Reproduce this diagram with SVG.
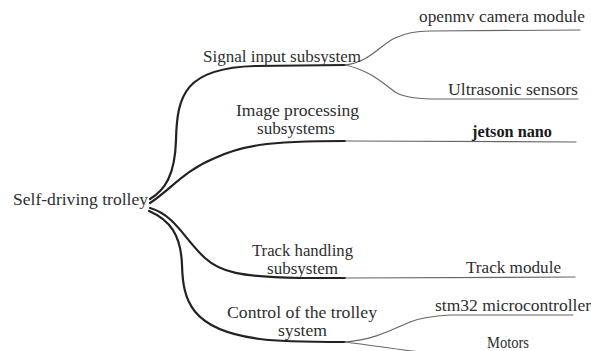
<svg xmlns="http://www.w3.org/2000/svg" width="591" height="351" viewBox="0 0 591 351">
  <style>
    .lbl { font-family: "Liberation Serif", "DejaVu Serif", "Times New Roman", serif; font-size: 16px; fill: #2e2e2e; }
    .bold { font-weight: bold; fill: #1a1a1a; }
    .main { fill: none; stroke: #222; stroke-width: 2.2; stroke-linecap: round; }
    .leaf { fill: none; stroke: #666; stroke-width: 1.2; stroke-linecap: round; }
  </style>
  <rect width="591" height="351" fill="#fff"/>

  <g id="connectors">
    <!-- root to subsystems -->
    <path class="main" d="M150,199 C165,190 175,175 176,140 C177,95 185,68 255,66 L345,65"/>
    <path class="main" d="M150,203 C170,190 185,170 215,158 C240,146 265,141 345,141"/>
    <path class="main" d="M150,208 C175,215 185,240 205,258 C220,272 240,277 300,278 L345,278"/>
    <path class="main" d="M149,211 C170,220 181,235 182,265 C183,300 190,330 260,339 C280,342 320,342 345,342"/>
    <!-- subsystems to components -->
    <path class="leaf" d="M345,65 C370,62 380,45 395,38 C405,33 415,31 430,31 L580,30"/>
    <path class="leaf" d="M345,65 C370,70 385,85 395,92 C405,98 420,99 440,99 L578,99"/>
    <path class="leaf" d="M345,141 L576,142"/>
    <path class="leaf" d="M345,278 L575,277"/>
    <path class="leaf" d="M345,342 C375,340 395,328 410,322 C420,318 430,316 450,315 L573,315"/>
    <path class="leaf" d="M345,342 C370,345 395,349 420,352"/>
  </g>

  <g id="root">
    <text class="lbl" x="13" y="205" textLength="135" lengthAdjust="spacingAndGlyphs">Self-driving trolley</text>
  </g>

  <g id="signal-input">
    <text class="lbl" x="203" y="62" textLength="158" lengthAdjust="spacingAndGlyphs">Signal input subsystem</text>
  </g>
  <g id="openmv">
    <text class="lbl" x="419" y="22" textLength="166" lengthAdjust="spacingAndGlyphs">openmv camera module</text>
  </g>
  <g id="ultrasonic">
    <text class="lbl" x="448" y="95" textLength="130" lengthAdjust="spacingAndGlyphs">Ultrasonic sensors</text>
  </g>

  <g id="image-processing">
    <text class="lbl" x="236" y="116" textLength="123" lengthAdjust="spacingAndGlyphs">Image processing</text>
    <text class="lbl" x="257" y="134" textLength="78" lengthAdjust="spacingAndGlyphs">subsystems</text>
  </g>
  <g id="jetson">
    <text class="lbl bold" x="472" y="137" textLength="80" lengthAdjust="spacingAndGlyphs">jetson nano</text>
  </g>

  <g id="track-handling">
    <text class="lbl" x="252" y="256" textLength="101" lengthAdjust="spacingAndGlyphs">Track handling</text>
    <text class="lbl" x="267" y="274" textLength="71" lengthAdjust="spacingAndGlyphs">subsystem</text>
  </g>
  <g id="track-module">
    <text class="lbl" x="466" y="273" textLength="95" lengthAdjust="spacingAndGlyphs">Track module</text>
  </g>

  <g id="control">
    <text class="lbl" x="227" y="318" textLength="150" lengthAdjust="spacingAndGlyphs">Control of the trolley</text>
    <text class="lbl" x="278" y="336" textLength="49" lengthAdjust="spacingAndGlyphs">system</text>
  </g>
  <g id="stm32">
    <text class="lbl" x="435" y="311" textLength="156" lengthAdjust="spacingAndGlyphs">stm32 microcontroller</text>
  </g>
  <g id="motors">
    <text class="lbl" x="487" y="348" textLength="42" lengthAdjust="spacingAndGlyphs">Motors</text>
  </g>
</svg>
